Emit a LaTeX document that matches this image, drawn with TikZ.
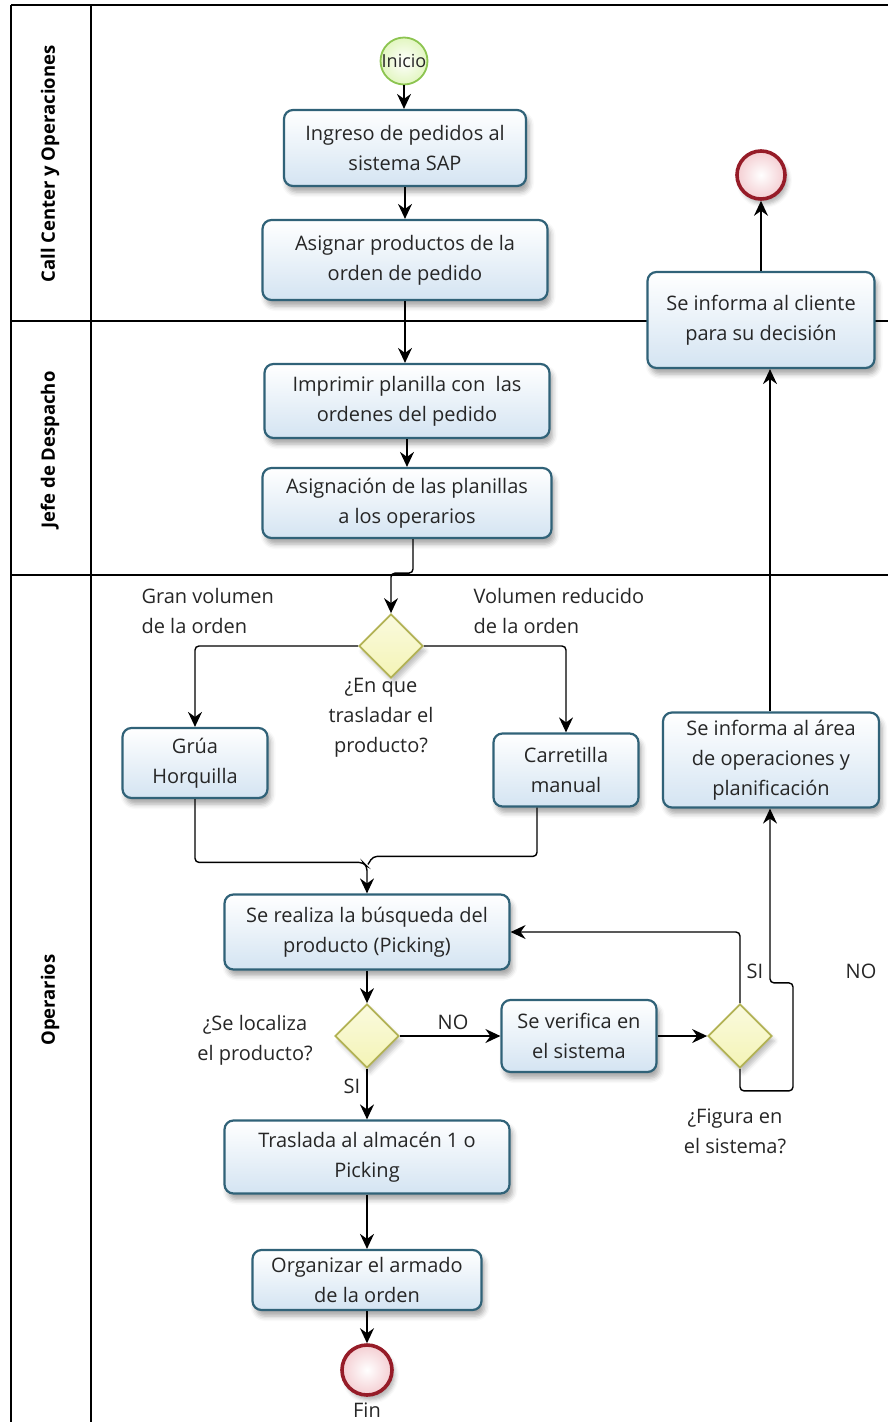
\documentclass[tikz,border=0pt]{standalone}
\usepackage{fontspec}
\setmainfont{Open Sans}
\usetikzlibrary{arrows.meta,shapes.geometric,shadows,shadows.blur,calc}

\definecolor{taskline}{RGB}{48,98,120}
\definecolor{taskfill}{RGB}{212,228,242}
\definecolor{gateline}{RGB}{178,178,84}
\definecolor{gatefill}{RGB}{244,244,182}
\definecolor{startline}{RGB}{140,196,80}
\definecolor{startfill}{RGB}{226,246,192}
\definecolor{endline}{RGB}{150,28,40}
\definecolor{endfill}{RGB}{244,206,210}
\definecolor{inktext}{RGB}{38,38,38}

\begin{document}
\begin{tikzpicture}[x=1pt,y=-1pt,
  every node/.style={font=\fontsize{20}{30}\selectfont, text=inktext},
  task/.style={draw=taskline, line width=2.2pt, rounded corners=9pt,
    top color=white, bottom color=taskfill, align=center, inner sep=0pt,
    blur shadow={shadow xshift=3pt, shadow yshift=-6pt, shadow blur radius=5pt, shadow opacity=35}},
  gate/.style={diamond, aspect=1, draw=gateline, line width=1.8pt,
    top color=gatefill!45!white, bottom color=gatefill, minimum size=64pt, inner sep=0pt,
    blur shadow={shadow xshift=3pt, shadow yshift=-5pt, shadow blur radius=4pt, shadow opacity=25}},
  startev/.style={circle, draw=startline, line width=1.8pt, inner color=white, outer color=startfill,
    minimum size=47pt, inner sep=0pt, font=\fontsize{18}{20}\selectfont},
  endev/.style={circle, draw=endline, line width=3.6pt, inner color=white, outer color=endfill,
    minimum size=48pt, inner sep=0pt,
    blur shadow={shadow xshift=3pt, shadow yshift=-5pt, shadow blur radius=4pt, shadow opacity=30}},
  flow/.style={draw=black, line width=1.4pt, rounded corners=4pt,
    -{Stealth[length=15pt,width=14pt,inset=5pt]}},
  plainflow/.style={draw=black, line width=1.4pt, rounded corners=4pt},
  lane/.style={draw=black, line width=1.2pt},
  lanetitle/.style={rotate=90, font=\bfseries\fontsize{18.5}{22}\selectfont, text=black},
  note/.style={align=center}
]
\useasboundingbox (0,0) rectangle (888,1422);

% pool frame and lanes
\coordinate (tl) at (11,5);
\coordinate (tr) at (892,5);
\coordinate (bl) at (11,1426);
\coordinate (ct) at (91,5);
\coordinate (cb) at (91,1426);
\coordinate (l1a) at (11,321);
\coordinate (l1b) at (892,321);
\coordinate (l2a) at (11,575);
\coordinate (l2b) at (892,575);
\draw[lane] (tl) -- (tr);
\draw[lane] (tl) -- (bl);
\draw[lane] (ct) -- (cb);
\draw[lane, line width=2.6pt] (l1a) -- (l1b);
\draw[lane] (l2a) -- (l2b);

\node[lanetitle] (lane1) at (50,164) {Call Center y Operaciones};
\node[lanetitle] (lane2) at (50,450) {Jefe de Despacho};
\node[lanetitle] (lane3) at (50,1000) {Operarios};

% events, tasks and gateways
\node[startev] (start) at (404,61) {Inicio};
\node[task, minimum width=242pt, minimum height=76pt] (ingreso) at (405,148) {Ingreso de pedidos al\\sistema SAP};
\node[task, minimum width=285pt, minimum height=80pt] (asignar) at (405,260) {Asignar productos de la\\orden de pedido};
\node[task, minimum width=285pt, minimum height=74pt] (imprimir) at (407,401) {Imprimir planilla con\ \ las\\ordenes del pedido};
\node[task, minimum width=289pt, minimum height=70pt] (asignacion) at (407,503) {Asignación de las planillas\\a los operarios};

\node[gate] (d1) at (391,646) {};
\node[task, minimum width=145pt, minimum height=70pt] (grua) at (195,763) {Grúa\\Horquilla};
\node[task, minimum width=145pt, minimum height=73pt] (carr) at (566,770) {Carretilla\\manual};
\node[task, minimum width=216pt, minimum height=95pt] (area) at (771,760) {Se informa al área\\de operaciones y\\planificación};
\node[task, minimum width=227pt, minimum height=96pt] (cliente) at (761,320) {Se informa al cliente\\para su decisión};
\node[endev] (end1) at (761,175) {};

\node[task, minimum width=285pt, minimum height=75pt] (sereal) at (367,932) {Se realiza la búsqueda del\\producto (Picking)};
\node[gate] (d2) at (367,1036) {};
\node[task, minimum width=155pt, minimum height=72pt] (verif) at (579,1036) {Se verifica en\\el sistema};
\node[gate] (d3) at (740,1036) {};
\node[task, minimum width=285pt, minimum height=73pt] (traslada) at (367,1157) {Traslada al almacén 1 o\\Picking};
\node[task, minimum width=229pt, minimum height=60pt] (organizar) at (367,1280) {Organizar el armado\\de la orden};
\node[endev, minimum size=50pt] (fin) at (367,1370) {};

% free texts
\node[note, anchor=west, align=left] (t1) at (138,611) {Gran volumen\\de la orden};
\node[note, anchor=west, align=left] (t2) at (470,611) {Volumen reducido\\de la orden};
\node[note] (t3) at (381,718) {¿En que\\trasladar el\\producto?};
\node[note] (t4) at (255,1040) {¿Se localiza\\el producto?};
\node[note] (t5) at (735,1131) {¿Figura en\\el sistema?};
\node (fint) at (367,1410) {Fin};
\node (no1) at (453,1022) {NO};
\node (si1) at (352,1086) {SI};
\node (si2) at (755,971) {SI};
\node (no2) at (861,971) {NO};

% sequence flows
\draw[flow] (start) -- (start |- ingreso.north);
\draw[flow] (ingreso) -- (ingreso |- asignar.north);
\draw[flow] (asignar.south) -- (asignar.south |- imprimir.north);
\draw[flow] (imprimir.south) -- (imprimir.south |- asignacion.north);
\draw[flow] ([xshift=6pt]asignacion.south) -- ++(0,34) -| (d1.north);
\draw[flow] (d1.west) -| (grua.north);
\draw[flow] (d1.east) -| (carr.north);
\coordinate (merge) at ($(sereal.north)+(0,-31)$);
\draw[flow] (grua.south) |- ($(merge)+(-4,0)$) -- ($(merge)+(0,4)$) -- (sereal.north);
\draw[plainflow] ([xshift=-29pt]carr.south) |- ($(merge)+(6,-6)$) -- ($(merge)+(1,2)$);
\draw[flow] (sereal.south) -- (d2.north);
\draw[flow] (d2.east) -- (verif.west);
\draw[flow] (verif.east) -- (d3.west);
\draw[flow] (d3.north) |- (sereal.east);
\draw[flow] (d3.south) -- ++(0,22) -- ++(53,0) -- ++(0,-108) -| ([xshift=-1pt]area.south);
\draw[flow] ([xshift=-1pt]area.north) -- ([xshift=-1pt]area.north |- cliente.south);
\draw[flow] (cliente.north) -- (end1.south);
\draw[flow] (d2.south) -- (traslada.north);
\draw[flow] (traslada.south) -- (organizar.north);
\draw[flow] (organizar.south) -- (fin.north);
\end{tikzpicture}
\end{document}
